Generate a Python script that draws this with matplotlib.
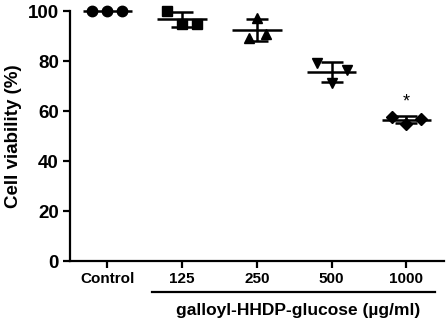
"""Cell viability scatter with mean and SD"""

import matplotlib
matplotlib.use('Agg')
import matplotlib.pyplot as plt
import matplotlib.transforms as mtransforms
import numpy as np

plt.rcParams['font.family'] = ['Liberation Sans', 'DejaVu Sans']
plt.rcParams['font.weight'] = 'bold'
plt.rcParams['axes.labelweight'] = 'bold'

groups = ['Control', '125', '250', '500', '1000']
viability = [
    [100.0, 100.0, 100.0],
    [100.2, 95.0, 95.0],
    [89.1, 97.3, 91.0],
    [79.2, 71.3, 76.4],
    [57.7, 54.9, 57.0],
]
markers = ['o', 's', '^', 'v', 'D']
significant = [False, False, False, False, True]
xlabel = 'galloyl-HHDP-glucose (\u00b5g/ml)'
ylabel = 'Cell viability (%)'
yticks = [0, 20, 40, 60, 80, 100]

# разброс точек внутри группы
jitter = [
    [-0.2, 0.0, 0.2],
    [-0.2, 0.0, 0.2],
    [-0.1, 0.0, 0.12],
    [-0.2, 0.0, 0.2],
    [-0.2, 0.0, 0.2],
]

fig = plt.figure(figsize=(4.47, 3.18), dpi=100)
ax = fig.add_axes([0.1566, 0.179, 0.8364, 0.786])

for i, vals in enumerate(viability):
    vals = np.array(vals)
    xs = i + np.array(jitter[i])
    size = 7.5 if markers[i] != 'D' else 6
    ax.plot(xs, vals, linestyle='none', marker=markers[i], ms=size,
            color='black', clip_on=False, zorder=3)
    mean = vals.mean()
    sd = vals.std(ddof=1)
    ax.hlines(mean, i - 0.33, i + 0.33, color='black', lw=1.8, zorder=4, clip_on=False)
    if sd > 0:
        ax.errorbar(i, mean, yerr=sd, fmt='none', ecolor='black', elinewidth=1.8,
                    capsize=8, capthick=1.8, zorder=4, clip_on=False)
    if significant[i]:
        ax.text(i, vals.max() + 6.0, '*', ha='center', va='center', fontsize=13,
                fontweight='normal')

ax.set_xlim(-0.5, 4.5)
ax.set_ylim(0, 100)
ax.set_xticks(range(len(groups)))
ax.set_xticklabels(groups, fontsize=11, fontweight='bold')
ax.set_yticks(yticks)
ax.set_yticklabels([str(t) for t in yticks], fontsize=13.5, fontweight='bold')
ax.set_ylabel(ylabel, fontsize=13.5, fontweight='bold', labelpad=4)

for side in ['top', 'right']:
    ax.spines[side].set_visible(False)
for side in ['left', 'bottom']:
    ax.spines[side].set_linewidth(1.6)
ax.tick_params(width=1.6, length=5, pad=3)

# подчёркивание под группами концентраций
trans = mtransforms.blended_transform_factory(ax.transData, ax.transAxes)
ax.plot([0.6, 4.38], [-0.124, -0.124], color='black', lw=1.6,
        transform=trans, clip_on=False)
ax.text(2.55, -0.198, xlabel, transform=trans, ha='center', va='center',
        fontsize=12.5, fontweight='bold')

fig.savefig('out.png', dpi=100)
